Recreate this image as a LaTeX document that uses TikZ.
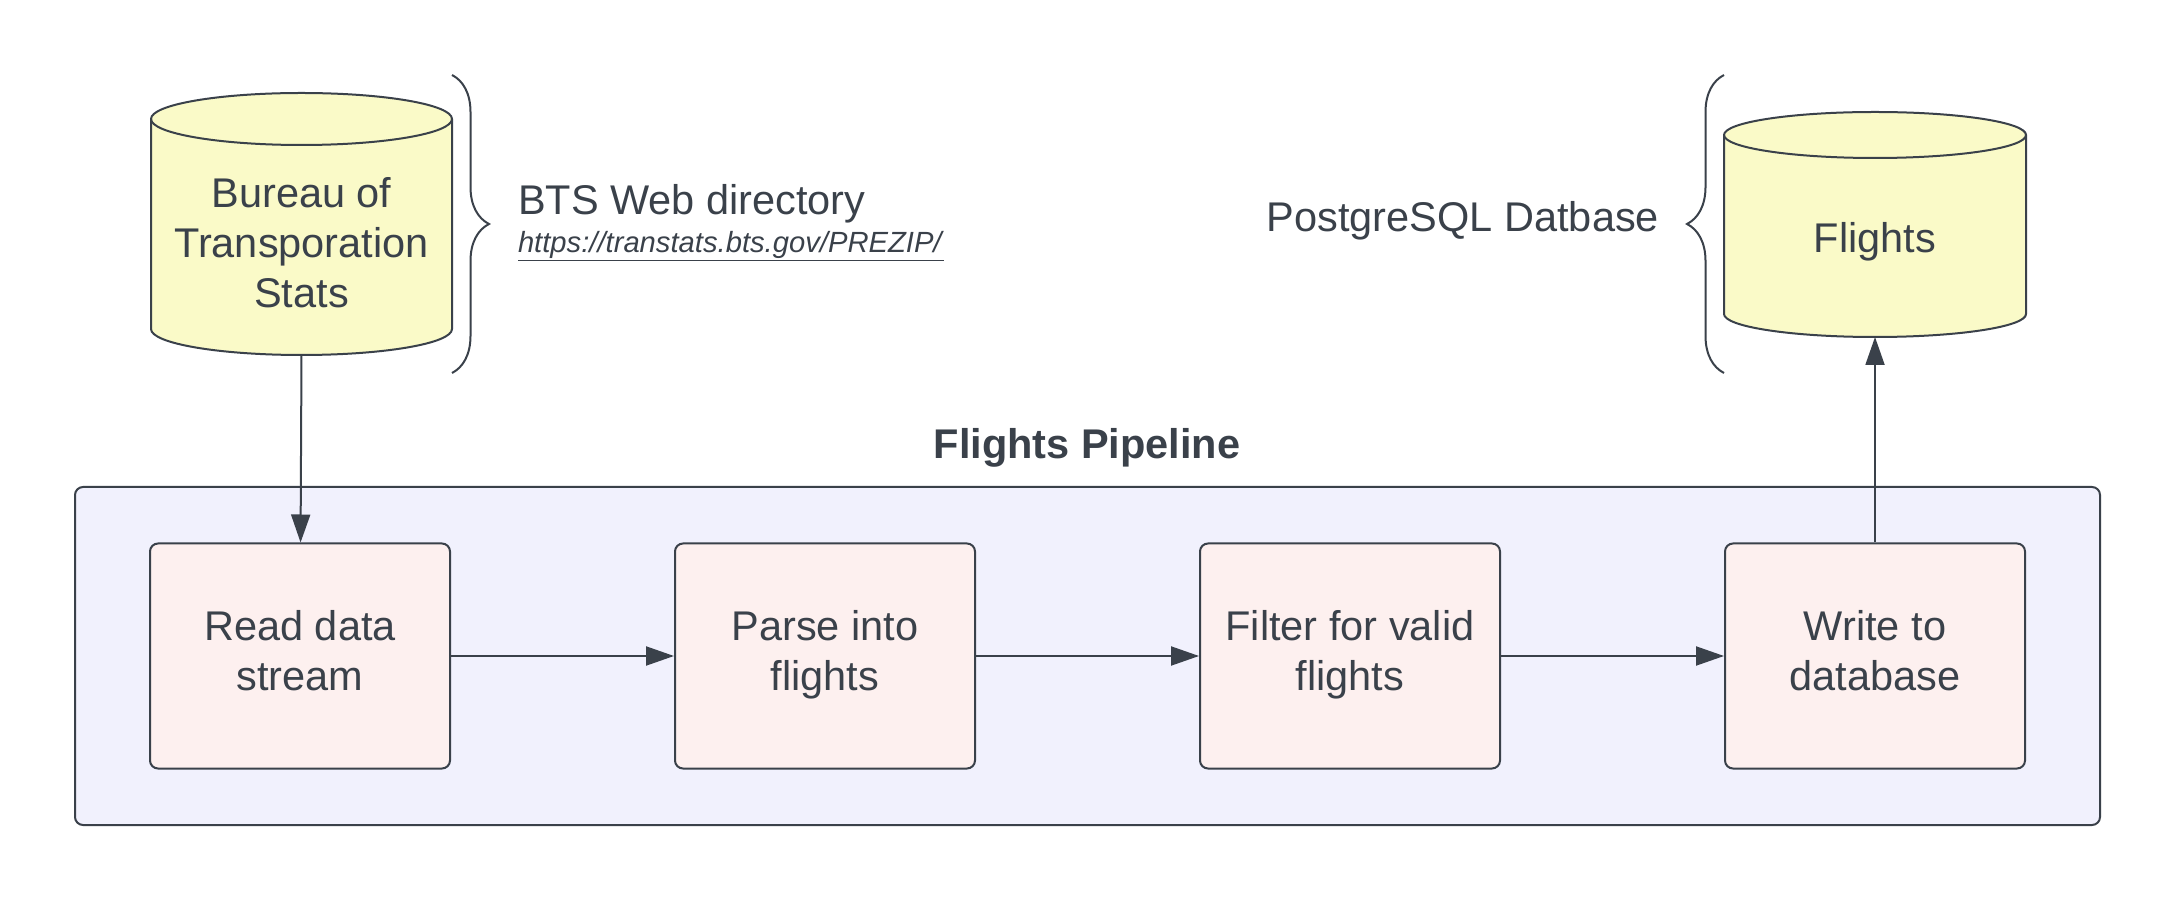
\documentclass[tikz,border=0pt]{standalone}
\usepackage{fontspec}
\setmainfont{Liberation Sans}
\usetikzlibrary{arrows.meta, decorations.pathreplacing, positioning}
\definecolor{ink}{HTML}{3A414A}
\definecolor{dbyellow}{HTML}{FAFAC8}
\definecolor{steppink}{HTML}{FDF0EF}
\definecolor{lanelilac}{HTML}{F1F1FD}

\begin{document}
\begin{tikzpicture}[x=1pt, y=1pt, line width=2pt, color=ink,
        every node/.style={font=\fontsize{41.5}{50}\selectfont, align=center},
        stepbox/.style={draw, fill=steppink, rounded corners=8pt, minimum width=300pt, minimum height=225pt, text depth=12pt},
        flow/.style={-{Triangle[length=28pt, width=19pt]}},
        curly/.style={decorate, decoration={brace, amplitude=37pt, aspect=0.5}}]
    \useasboundingbox (0,0) rectangle (2175,900);

    % pipeline frame
    \draw[fill=lanelilac, rounded corners=8pt] (75,75) rectangle (2100,413);
    \node[anchor=base, font=\fontsize{41.5}{50}\selectfont\bfseries] (title) at (1087,441) {Flights Pipeline};

    % source cylinder
    \draw[fill=dbyellow] (151,781) -- (151,571) arc[start angle=180, end angle=360, x radius=150.5pt, y radius=26pt]
        -- (452,781) arc[start angle=0, end angle=180, x radius=150.5pt, y radius=26pt] -- cycle;
    \draw (151,781) arc[start angle=180, end angle=360, x radius=150.5pt, y radius=26pt];
    \node (bts) at (301.5,657) {Bureau of\\Transporation\\Stats};
    \coordinate (bts bottom) at (301.5,545);

    % target cylinder
    \draw[fill=dbyellow] (1724,765) -- (1724,586) arc[start angle=180, end angle=360, x radius=151pt, y radius=23pt]
        -- (2026,765) arc[start angle=0, end angle=180, x radius=151pt, y radius=23pt] -- cycle;
    \draw (1724,765) arc[start angle=180, end angle=360, x radius=151pt, y radius=23pt];
    \node (flightsdb) at (1875,658) {Flights};
    \coordinate (db bottom) at (1875,563);

    % braces and their labels
    \draw[curly] (452,825) -- (452,527);
    \node[anchor=base west, inner sep=0pt] (btsweb) at (517,685) {BTS Web directory};
    \node[anchor=base west, inner sep=0pt, font=\fontsize{29.2}{35}\selectfont] (btsurl) at (517,647) {\underline{\textit{https://transtats.bts.gov/PREZIP/}}};
    \draw[curly] (1724,527) -- (1724,825);
    \node[anchor=base east, inner sep=0pt] (pgdb) at (1660,668) {PostgreSQL Datbase};

    % steps
    \node[stepbox] (read) at (300,244) {Read data\\stream};
    \node[stepbox] (parse) at (825,244) {Parse into\\flights};
    \node[stepbox] (filter) at (1350,244) {Filter for valid\\flights};
    \node[stepbox] (write) at (1875,244) {Write to\\database};

    \draw[flow] (bts bottom) -- (read);
    \draw[flow] (read) -- (parse);
    \draw[flow] (parse) -- (filter);
    \draw[flow] (filter) -- (write);
    \draw[flow] (write) -- (db bottom);
\end{tikzpicture}
\end{document}
